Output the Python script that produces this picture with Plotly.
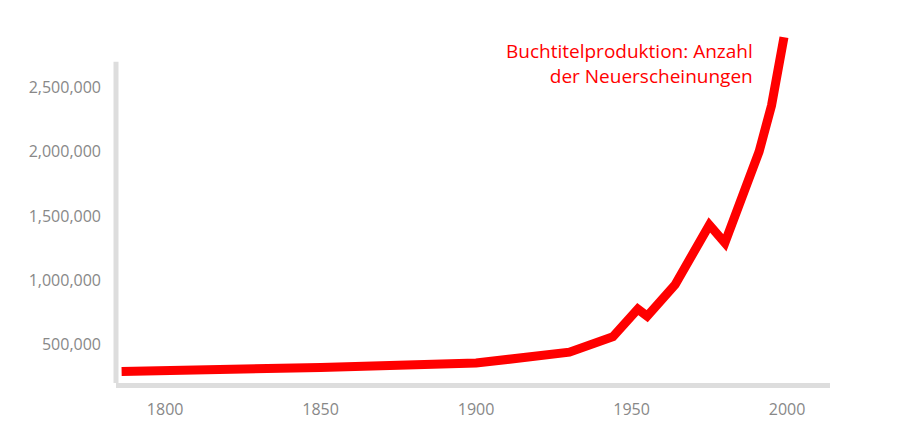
import plotly.graph_objects as go

years = [1786, 1800, 1850, 1900, 1930, 1944, 1952, 1955, 1964, 1975, 1980, 1991, 1995, 1999]
titles = [290000, 295000, 320000, 355000, 440000, 560000, 775000, 720000, 965000, 1430000, 1290000, 2000000, 2360000, 2890000]
label = "Buchtitelproduktion: Anzahl<br>der Neuerscheinungen"

fig = go.Figure(go.Scatter(x=years, y=titles, mode="lines",
                           line=dict(color="#ff0000", width=9), hoverinfo="skip"))
fig.add_shape(type="line", xref="paper", x0=0, x1=0, yref="y", y0=200000, y1=2700000,
              line=dict(color="#dddddd", width=5))
fig.add_annotation(xref="paper", yref="paper", x=(747 - 108) / 714, y=1.0, xanchor="right",
                   yanchor="top", text=label, showarrow=False, align="right",
                   font=dict(family="Open Sans", size=19, color="#ff0000"))
fig.update_layout(
    width=920, height=440, margin=dict(l=108, r=98, t=28, b=65),
    plot_bgcolor="white", paper_bgcolor="white", showlegend=False,
    font=dict(family="Open Sans", size=16, color="#888888"),
    xaxis=dict(range=[1784.2, 2013.8], tickvals=[1800, 1850, 1900, 1950, 2000], showgrid=False,
               zeroline=False, showline=True, linecolor="#dddddd", linewidth=5, ticks="",
               ticklabelstandoff=8, automargin=False),
    yaxis=dict(range=[200000, 2900000], tickvals=[500000, 1000000, 1500000, 2000000, 2500000],
               tickformat=",d", showgrid=False, zeroline=False, showline=False, ticks="",
               ticklabelstandoff=14, automargin=False),
)
fig.write_html("out.html")
